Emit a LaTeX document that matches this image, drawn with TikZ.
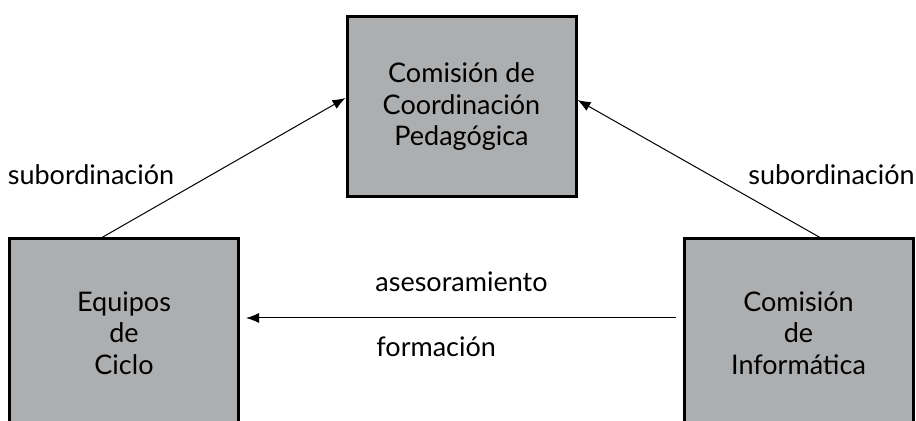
\documentclass[tikz,border=0pt]{standalone}
\usepackage{fontspec}
\setmainfont{Lato}
\usetikzlibrary{arrows.meta}
\definecolor{boxgray}{RGB}{173,174,176}
\begin{document}
\begin{tikzpicture}[x=0.5pt,y=-0.5pt,
    box/.style={draw, line width=1.5pt, fill=boxgray, align=center, inner sep=0pt,
        minimum width=114.5pt, font=\fontsize{13.5}{15.75}\selectfont},
    link/.style={line width=0.5pt, -{Latex[length=6.5pt,width=5pt]}},
    tag/.style={inner sep=0pt, font=\fontsize{13.5}{15}\selectfont}]
        \useasboundingbox (0,0) rectangle (916,421);
        \clip (0,0) rectangle (916,421);

        \node[box, minimum height=90pt] (ccp) at (461.5,107) {Comisión de\\Coordinación\\Pedagógica};
        \node[box, minimum height=94pt] (eqc) at (124,333) {Equipos\\de\\Ciclo};
        \node[box, minimum height=94pt] (cinf) at (798.5,333) {Comisión\\de\\Informática};

        \draw[link] ([xshift=-11pt]eqc.north) -- ([yshift=4.5pt]ccp.west);
        \draw[link] ([xshift=10.75pt]cinf.north) -- ([yshift=3.5pt]ccp.east);
        \draw[link] ([yshift=7.5pt,xshift=-3.5pt]cinf.west) -- ([yshift=7.5pt,xshift=3pt]eqc.east);

        \node[tag, anchor=base] (subl) at (91,185) {subordinación};
        \node[tag, anchor=base] (subr) at (831.5,185) {subordinación};
        \node[tag, anchor=base west] (ases) at (375,292) {asesoramiento};
        \node[tag, anchor=base west] (form) at (376,357) {formación};

    \end{tikzpicture}
\end{document}
